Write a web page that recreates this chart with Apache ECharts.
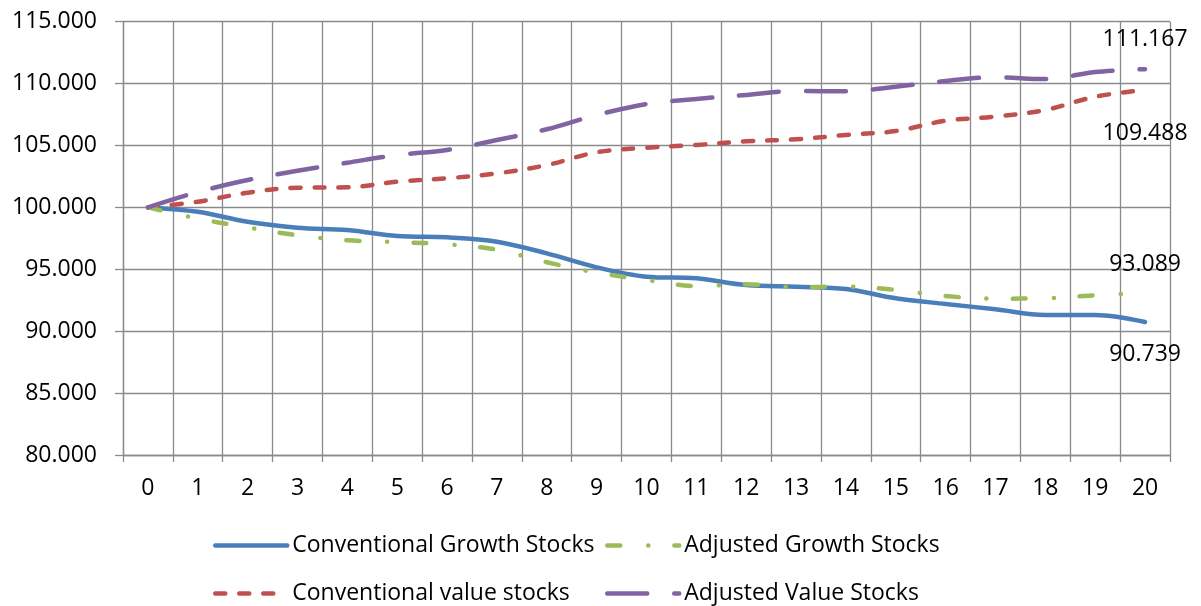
<!DOCTYPE html>
<html>
<head>
<meta charset="utf-8">
<script src="https://cdn.jsdelivr.net/npm/echarts@6/dist/echarts.min.js"></script>
<style>
  html, body { margin: 0; padding: 0; background: #fff; }
  #chart { width: 1201px; height: 606px; }
</style>
</head>
<body>
<div id="chart"></div>
<script>
// Years since portfolio formation
const years = ['0','1','2','3','4','5','6','7','8','9','10','11','12','13','14','15','16','17','18','19','20'];

// Cumulative index values (start = 100)
const conventionalGrowth = [100, 99.65, 98.84, 98.36, 98.17, 97.69, 97.58, 97.23, 96.29, 95.16, 94.40, 94.27, 93.73, 93.59, 93.41, 92.66, 92.20, 91.77, 91.31, 91.31, 90.739];
const adjustedGrowth     = [100, 99.10, 98.38, 97.75, 97.34, 97.20, 97.02, 96.58, 95.57, 94.73, 94.14, 93.65, 93.79, 93.55, 93.60, 93.33, 92.84, 92.63, 92.66, 92.90, 93.089];
const conventionalValue  = [100, 100.46, 101.19, 101.59, 101.62, 102.08, 102.35, 102.75, 103.42, 104.45, 104.82, 105.04, 105.34, 105.50, 105.85, 106.17, 107.00, 107.33, 107.87, 108.94, 109.488];
const adjustedValue      = [100, 101.24, 102.21, 102.96, 103.61, 104.23, 104.64, 105.44, 106.31, 107.46, 108.35, 108.76, 109.08, 109.40, 109.38, 109.75, 110.21, 110.51, 110.37, 110.94, 111.167];

const seriesNames = ['Conventional Growth Stocks', 'Adjusted Growth Stocks', 'Conventional value stocks', 'Adjusted Value Stocks'];

// Y axis range
const yMin = 80, yMax = 115, yStep = 5;

const FONT = 'Open Sans';
const GRID_COLOR = '#8a8a8a';
const LINE_WIDTH = 4.5;

const chart = echarts.init(document.getElementById('chart'), null, { renderer: 'canvas' });

// Value label at the last point of a series
function endMark(values, position, distance) {
  const last = values.length - 1;
  return {
    symbol: 'circle',
    symbolSize: 0,
    silent: true,
    data: [{ coord: [years[last], values[last]], value: values[last] }],
    label: {
      show: true,
      position: position,
      distance: distance,
      formatter: p => Number(p.value).toFixed(3),
      fontFamily: FONT,
      fontSize: 23,
      color: '#000'
    }
  };
}

function lineSeries(name, values, color, dash, labelPos, labelDist, z) {
  return {
    name: name,
    type: 'line',
    data: values,
    smooth: 0.35,
    symbol: 'none',
    z: z,
    lineStyle: { color: color, width: LINE_WIDTH, type: dash, cap: 'round', join: 'round' },
    itemStyle: { color: color },
    markPoint: endMark(values, labelPos, labelDist)
  };
}

const legendBase = {
  orient: 'horizontal',
  padding: 0,
  itemGap: 0,
  itemWidth: 72,
  itemHeight: 10,
  itemTextGap: 6,
  selectedMode: false,
  itemStyle: { opacity: 0 },
  lineStyle: { width: LINE_WIDTH, cap: 'round' },
  textStyle: { fontFamily: FONT, fontSize: 23, color: '#000' }
};

const option = {
  backgroundColor: '#fff',
  animation: false,
  grid: { left: 123, right: 31, top: 21.7, bottom: 151, containLabel: false },
  legend: [
    Object.assign({}, legendBase, { data: [seriesNames[0]], left: 213, top: 534 }),
    Object.assign({}, legendBase, { data: [seriesNames[1]], left: 605, top: 534 }),
    Object.assign({}, legendBase, { data: [seriesNames[2]], left: 213, top: 582 }),
    Object.assign({}, legendBase, { data: [seriesNames[3]], left: 605, top: 582 })
  ],
  xAxis: {
    type: 'category',
    data: years,
    boundaryGap: true,
    axisLine: { show: true, lineStyle: { color: GRID_COLOR, width: 1.3 } },
    axisTick: { show: true, length: 7, interval: 0, lineStyle: { color: GRID_COLOR, width: 1.3 } },
    splitLine: { show: true, interval: 0, lineStyle: { color: GRID_COLOR, width: 1.3 } },
    axisLabel: { interval: 0, margin: 22, fontFamily: FONT, fontSize: 23, color: '#000' }
  },
  yAxis: {
    type: 'value',
    min: yMin,
    max: yMax,
    interval: yStep,
    axisLine: { show: true, lineStyle: { color: GRID_COLOR, width: 1.3 } },
    axisTick: { show: true, length: 8, lineStyle: { color: GRID_COLOR, width: 1.3 } },
    splitLine: { show: true, lineStyle: { color: GRID_COLOR, width: 1.3 } },
    axisLabel: { margin: 26, fontFamily: FONT, fontSize: 23, color: '#000', formatter: v => v.toFixed(3) }
  },
  series: [
    lineSeries(seriesNames[0], conventionalGrowth, '#4a7ebb', 'solid', 'bottom', 21, 2),
    lineSeries(seriesNames[1], adjustedGrowth, '#9bbb59', [13, 28, 0.1, 26], 'top', 17, 3),
    lineSeries(seriesNames[2], conventionalValue, '#c0504d', [10, 14], 'bottom', 32, 2),
    lineSeries(seriesNames[3], adjustedValue, '#8064a2', [40, 27], 'top', 18.5, 3)
  ]
};

chart.setOption(option);
</script>
</body>
</html>
